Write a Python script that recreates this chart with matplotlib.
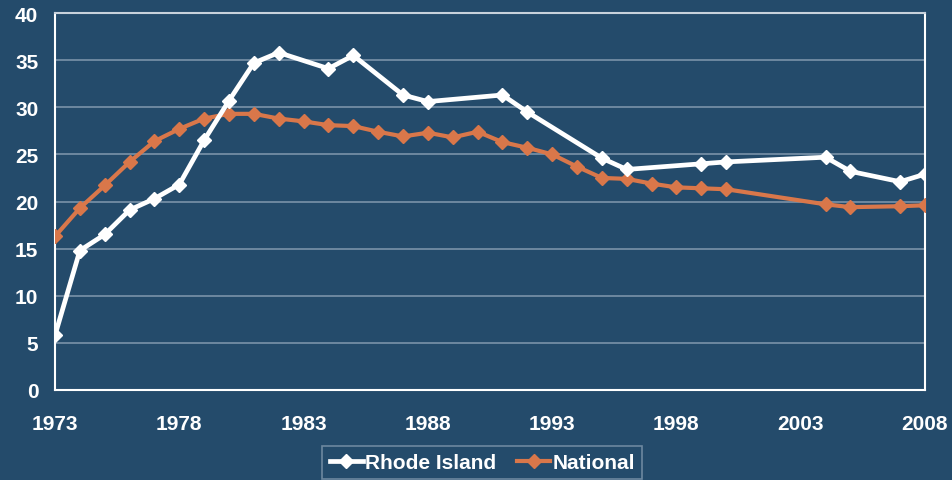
import matplotlib
matplotlib.use("Agg")
import matplotlib.pyplot as plt

ri_years = [1973, 1974, 1975, 1976, 1977, 1978, 1979, 1980, 1981, 1982, 1984, 1985,
            1987, 1988, 1991, 1992, 1995, 1996, 1999, 2000, 2004, 2005, 2007, 2008]
ri_values = [5.8, 14.8, 16.5, 19.1, 20.3, 21.8, 26.5, 30.7, 34.7, 35.8, 34.1, 35.5,
             31.3, 30.6, 31.3, 29.5, 24.6, 23.4, 24.0, 24.2, 24.7, 23.2, 22.1, 22.9]

nat_years = [1973, 1974, 1975, 1976, 1977, 1978, 1979, 1980, 1981, 1982, 1983, 1984,
             1985, 1986, 1987, 1988, 1989, 1990, 1991, 1992, 1993, 1994, 1995, 1996,
             1997, 1998, 1999, 2000, 2004, 2005, 2007, 2008]
nat_values = [16.3, 19.3, 21.7, 24.2, 26.4, 27.7, 28.8, 29.3, 29.3, 28.8, 28.5, 28.1,
              28.0, 27.4, 26.9, 27.3, 26.8, 27.4, 26.3, 25.7, 25.0, 23.7, 22.5, 22.4,
              21.9, 21.5, 21.4, 21.3, 19.7, 19.4, 19.5, 19.6]

x_ticks = [1973, 1978, 1983, 1988, 1993, 1998, 2003, 2008]
y_ticks = [0, 5, 10, 15, 20, 25, 30, 35, 40]

plt.rcParams['font.family'] = ['Liberation Sans', 'DejaVu Sans']

bg = "#244B6B"
orange = "#D9774A"

fig = plt.figure(figsize=(9.53, 4.81), dpi=100, facecolor=bg)
ax = fig.add_axes([55/953, 1 - 391/481, 870/953, 377/481])
ax.set_facecolor(bg)

ax.plot(nat_years, nat_values, color=orange, lw=3, marker='D', ms=7, mfc=orange, mec=orange,
        label="National", zorder=3)
ax.plot(ri_years, ri_values, color="white", lw=3.4, marker='D', ms=7, mfc="white", mec="white",
        label="Rhode Island", zorder=4)

ax.set_xlim(1973, 2008)
ax.set_ylim(0, 40)
ax.set_xticks(x_ticks)
ax.set_yticks(y_ticks)
ax.grid(axis='y', color='#8FA5B8', lw=1.2, alpha=0.8)
ax.set_axisbelow(True)
for s in ax.spines.values():
    s.set_color('white')
    s.set_linewidth(1.5)
ax.spines['top'].set_color('#C8D2DC')
ax.tick_params(axis='both', length=0, colors='white', labelsize=15)
ax.tick_params(axis='x', pad=17)
ax.tick_params(axis='y', pad=12)
for lab in ax.get_xticklabels() + ax.get_yticklabels():
    lab.set_fontweight('bold')

handles, labels = ax.get_legend_handles_labels()
leg = fig.legend(handles[::-1], labels[::-1], loc='lower left', bbox_to_anchor=(312/953, -0.02),
                 ncol=2, frameon=True, fancybox=False, prop={'weight': 'bold', 'size': 15},
                 handlelength=1.6, handletextpad=0.1, columnspacing=1.0, borderpad=0.35)
leg.get_frame().set_facecolor(bg)
leg.get_frame().set_edgecolor('#7F97AC')
leg.get_frame().set_linewidth(1.2)
for t in leg.get_texts():
    t.set_color('white')

fig.text(772/953, -0.036, "Guttmacher Institute", color='white', fontsize=14, fontweight='bold',
         ha='left', va='bottom')

fig.savefig("out.png", dpi=100, facecolor=bg)
